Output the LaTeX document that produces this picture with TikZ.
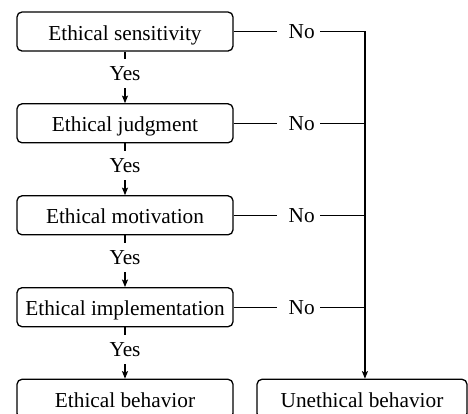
\documentclass[tikz,border=0pt]{standalone}
\usepackage{fontspec}
\setmainfont{Liberation Serif}
\usetikzlibrary{calc,arrows.meta}
\begin{document}
\begin{tikzpicture}[x=1pt,y=-1pt,line width=1.3pt,
  stepbox/.style={draw,rounded corners=5pt,minimum width=216pt,minimum height=39pt,
    inner sep=0pt,text height=17pt,text depth=0pt,font=\fontsize{21.3}{25}\selectfont},
  lbl/.style={inner sep=0pt,text height=14pt,text depth=0pt,font=\fontsize{21.3}{25}\selectfont},
  arr/.style={-{Stealth[length=7.5pt,width=6pt,inset=1.5pt]}}]
\useasboundingbox (0,0) rectangle (468,413);
\clip (0,0) rectangle (468,413);
\node[stepbox] (s1) at (125,31.5) {Ethical sensitivity};
\node[stepbox] (s2) at (125,123.3) {Ethical judgment};
\node[stepbox] (s3) at (125,215.3) {Ethical motivation};
\node[stepbox] (s4) at (125,307.2) {Ethical implementation};
\node[stepbox] (s5) at (125,398.8) {Ethical behavior};
\node[stepbox,minimum width=210pt] (u) at (362,398.8) {Unethical behavior};
% Yes labels and arrows
\foreach \a/\b in {s1/s2,s2/s3,s3/s4,s4/s5}{
  \node[lbl] (y\a) at ($(\a.south)!0.5!(\b.north)+(0,-3.6)$) {Yes};
  \draw (\a.south) -- ([yshift=7pt]y\a.north);
  \draw[arr] ([yshift=-7pt]y\a.south) -- (\b.north);
}
% No labels
\foreach \a in {s1,s2,s3,s4}{
  \node[lbl] (n\a) at ($(\a.east)+(68,0)$) {No};
  \coordinate (j\a) at ($(\a.east)+(131.3,0)$);
  \draw (\a.east) -- ([xshift=-11pt]n\a.west);
}
\draw ([xshift=5pt]ns1.east) -- (js1) -- (js2);
\draw[arr] (js2) -- (js1 |- u.north);
\foreach \a in {s2,s3,s4}{
  \draw ([xshift=5pt]n\a.east) -- (j\a);
}
\end{tikzpicture}
\end{document}
